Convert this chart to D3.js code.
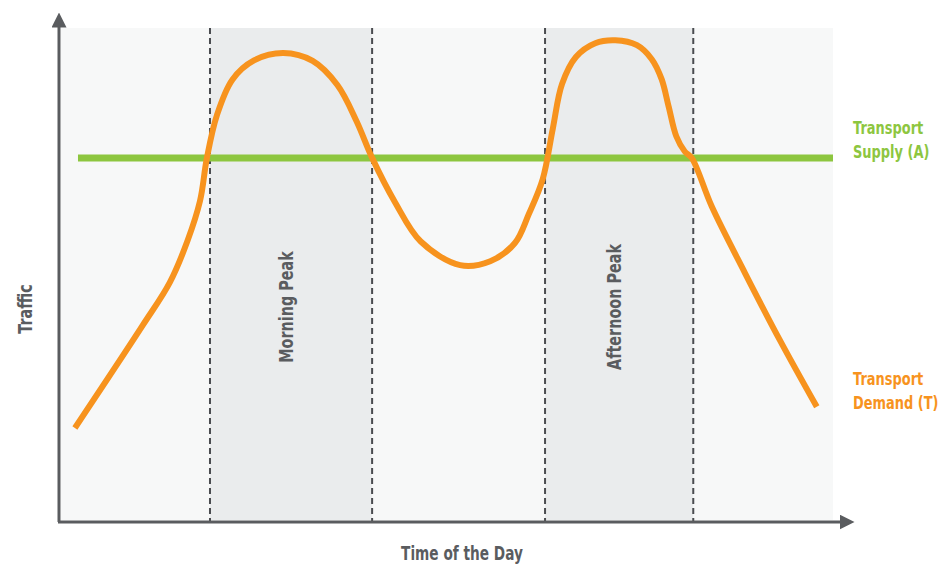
<!DOCTYPE html>
<html>
<head>
<meta charset="utf-8">
<script src="https://cdn.jsdelivr.net/npm/d3@7"></script>
<style>
  body { margin: 0; background: #fff; }
  text { font-family: "DejaVu Sans", sans-serif; font-weight: bold; }
</style>
</head>
<body>
<div id="chart"></div>
<script>
// Curva de demanda (unidades abstractas 0-100 en ambos ejes)
const demandX = [1.8, 10.6, 14.1, 16.4, 18.0, 18.9, 20.2, 22.2, 25.0, 28.8, 32.6, 35.8, 38.3, 40.3,
                 43.3, 46.6, 51.7, 55.6, 58.8, 60.6, 62.4, 63.7, 64.9, 66.7, 69.2, 71.8, 74.6, 76.5, 77.8,
                 78.7, 79.7, 80.8, 81.7, 84.3, 88.6, 93.1, 97.9];
const demandY = [18.7, 39.6, 48.3, 56.8, 64.8, 73.6, 82.3, 89.5, 93.4, 94.9, 93.3, 88.4, 81.0, 73.6,
                 64.5, 56.6, 51.8, 52.6, 56.3, 62.2, 69.3, 79.5, 88.6, 94.1, 96.9, 97.5, 96.5, 93.7, 89.6,
                 84.1, 78.0, 74.9, 73.6, 63.7, 50.2, 36.6, 23.0];
// Oferta de transporte
const supplyLevel = 73.6;
const supplyRange = [2.2, 100];
// Franjas de hora punta
const peaks = [
    { name: "Morning Peak", start: 19.3, end: 40.3 },
    { name: "Afternoon Peak", start: 62.7, end: 81.9 }
];
const axisLabels = { x: "Time of the Day", y: "Traffic" };
const seriesLabels = [
    { lines: ["Transport", "Supply (A)"], color: "#8dc63f", y: 78.5 },
    { lines: ["Transport", "Demand (T)"], color: "#f7931e", y: 27.5 }
];

const width = 946, height = 564;
const plot = { left: 61, right: 833, top: 28, bottom: 520 };
const axisColor = "#5a5c5f";
const squeeze = 0.72; // letra condensada

const svg = d3.select("#chart").append("svg")
    .attr("width", width)
    .attr("height", height);

const x = d3.scaleLinear().domain([0, 100]).range([plot.left, plot.right]);
const y = d3.scaleLinear().domain([0, 100]).range([plot.bottom, plot.top]);

// Fondo
svg.append("rect")
    .attr("x", plot.left).attr("y", plot.top)
    .attr("width", plot.right - plot.left).attr("height", plot.bottom - plot.top)
    .attr("fill", "#f7f8f8");

// Franjas
svg.selectAll(".band")
    .data(peaks)
    .enter().append("rect")
    .attr("x", d => x(d.start))
    .attr("y", plot.top)
    .attr("width", d => x(d.end) - x(d.start))
    .attr("height", plot.bottom - plot.top)
    .attr("fill", "#eaeced");

// Líneas discontinuas
const edges = peaks.flatMap(d => [d.start, d.end]);
svg.selectAll(".edge")
    .data(edges)
    .enter().append("line")
    .attr("x1", d => x(d)).attr("x2", d => x(d))
    .attr("y1", plot.top).attr("y2", plot.bottom + 2)
    .attr("stroke", "#4a4c50")
    .attr("stroke-width", 2)
    .attr("stroke-dasharray", "6,4");

// Etiquetas de franjas
svg.selectAll(".band-label")
    .data(peaks)
    .enter().append("text")
    .attr("transform", d => `translate(${(x(d.start) + x(d.end)) / 2 + 2},307) rotate(-90) scale(${squeeze},1)`)
    .attr("text-anchor", "middle")
    .attr("font-size", 20)
    .attr("fill", "#5a5c5f")
    .text(d => d.name);

// Oferta
svg.append("line")
    .attr("x1", x(supplyRange[0])).attr("x2", x(supplyRange[1]))
    .attr("y1", y(supplyLevel)).attr("y2", y(supplyLevel))
    .attr("stroke", "#8dc63f")
    .attr("stroke-width", 7);

// Demanda
const demand = demandX.map((d, i) => [d, demandY[i]]);
svg.append("path")
    .datum(demand)
    .attr("fill", "none")
    .attr("stroke", "#f7931e")
    .attr("stroke-width", 6)
    .attr("d", d3.line().x(d => x(d[0])).y(d => y(d[1])).curve(d3.curveCatmullRom.alpha(0.5)));

// Ejes con flechas
const defs = svg.append("defs");
defs.append("marker")
    .attr("id", "arrow")
    .attr("viewBox", "0 0 10 10")
    .attr("refX", 1).attr("refY", 5)
    .attr("markerWidth", 5).attr("markerHeight", 5)
    .attr("markerUnits", "strokeWidth")
    .attr("orient", "auto")
    .append("path")
    .attr("d", "M0,0 L10,5 L0,10 z")
    .attr("fill", axisColor);

svg.append("line")
    .attr("x1", 59).attr("y1", 522)
    .attr("x2", 59).attr("y2", 26)
    .attr("stroke", axisColor).attr("stroke-width", 3)
    .attr("marker-end", "url(#arrow)");

svg.append("line")
    .attr("x1", 58).attr("y1", 522)
    .attr("x2", 841).attr("y2", 522)
    .attr("stroke", axisColor).attr("stroke-width", 3)
    .attr("marker-end", "url(#arrow)");

// Títulos de ejes
svg.append("text")
    .attr("transform", `translate(462,560) scale(${squeeze},1)`)
    .attr("text-anchor", "middle")
    .attr("font-size", 19)
    .attr("fill", "#5a5c5f")
    .text(axisLabels.x);

svg.append("text")
    .attr("transform", `translate(32,309) rotate(-90) scale(${squeeze},1)`)
    .attr("text-anchor", "middle")
    .attr("font-size", 20)
    .attr("fill", "#5a5c5f")
    .text(axisLabels.y);

// Etiquetas de series
seriesLabels.forEach(s => {
    const t = svg.append("text")
        .attr("transform", `translate(853,${y(s.y)}) scale(${squeeze},1)`)
        .attr("font-size", 18)
        .attr("fill", s.color);
    s.lines.forEach((line, i) => {
        t.append("tspan")
            .attr("x", 0)
            .attr("dy", i === 0 ? 0 : 24)
            .text(line);
    });
});
</script>
</body>
</html>
